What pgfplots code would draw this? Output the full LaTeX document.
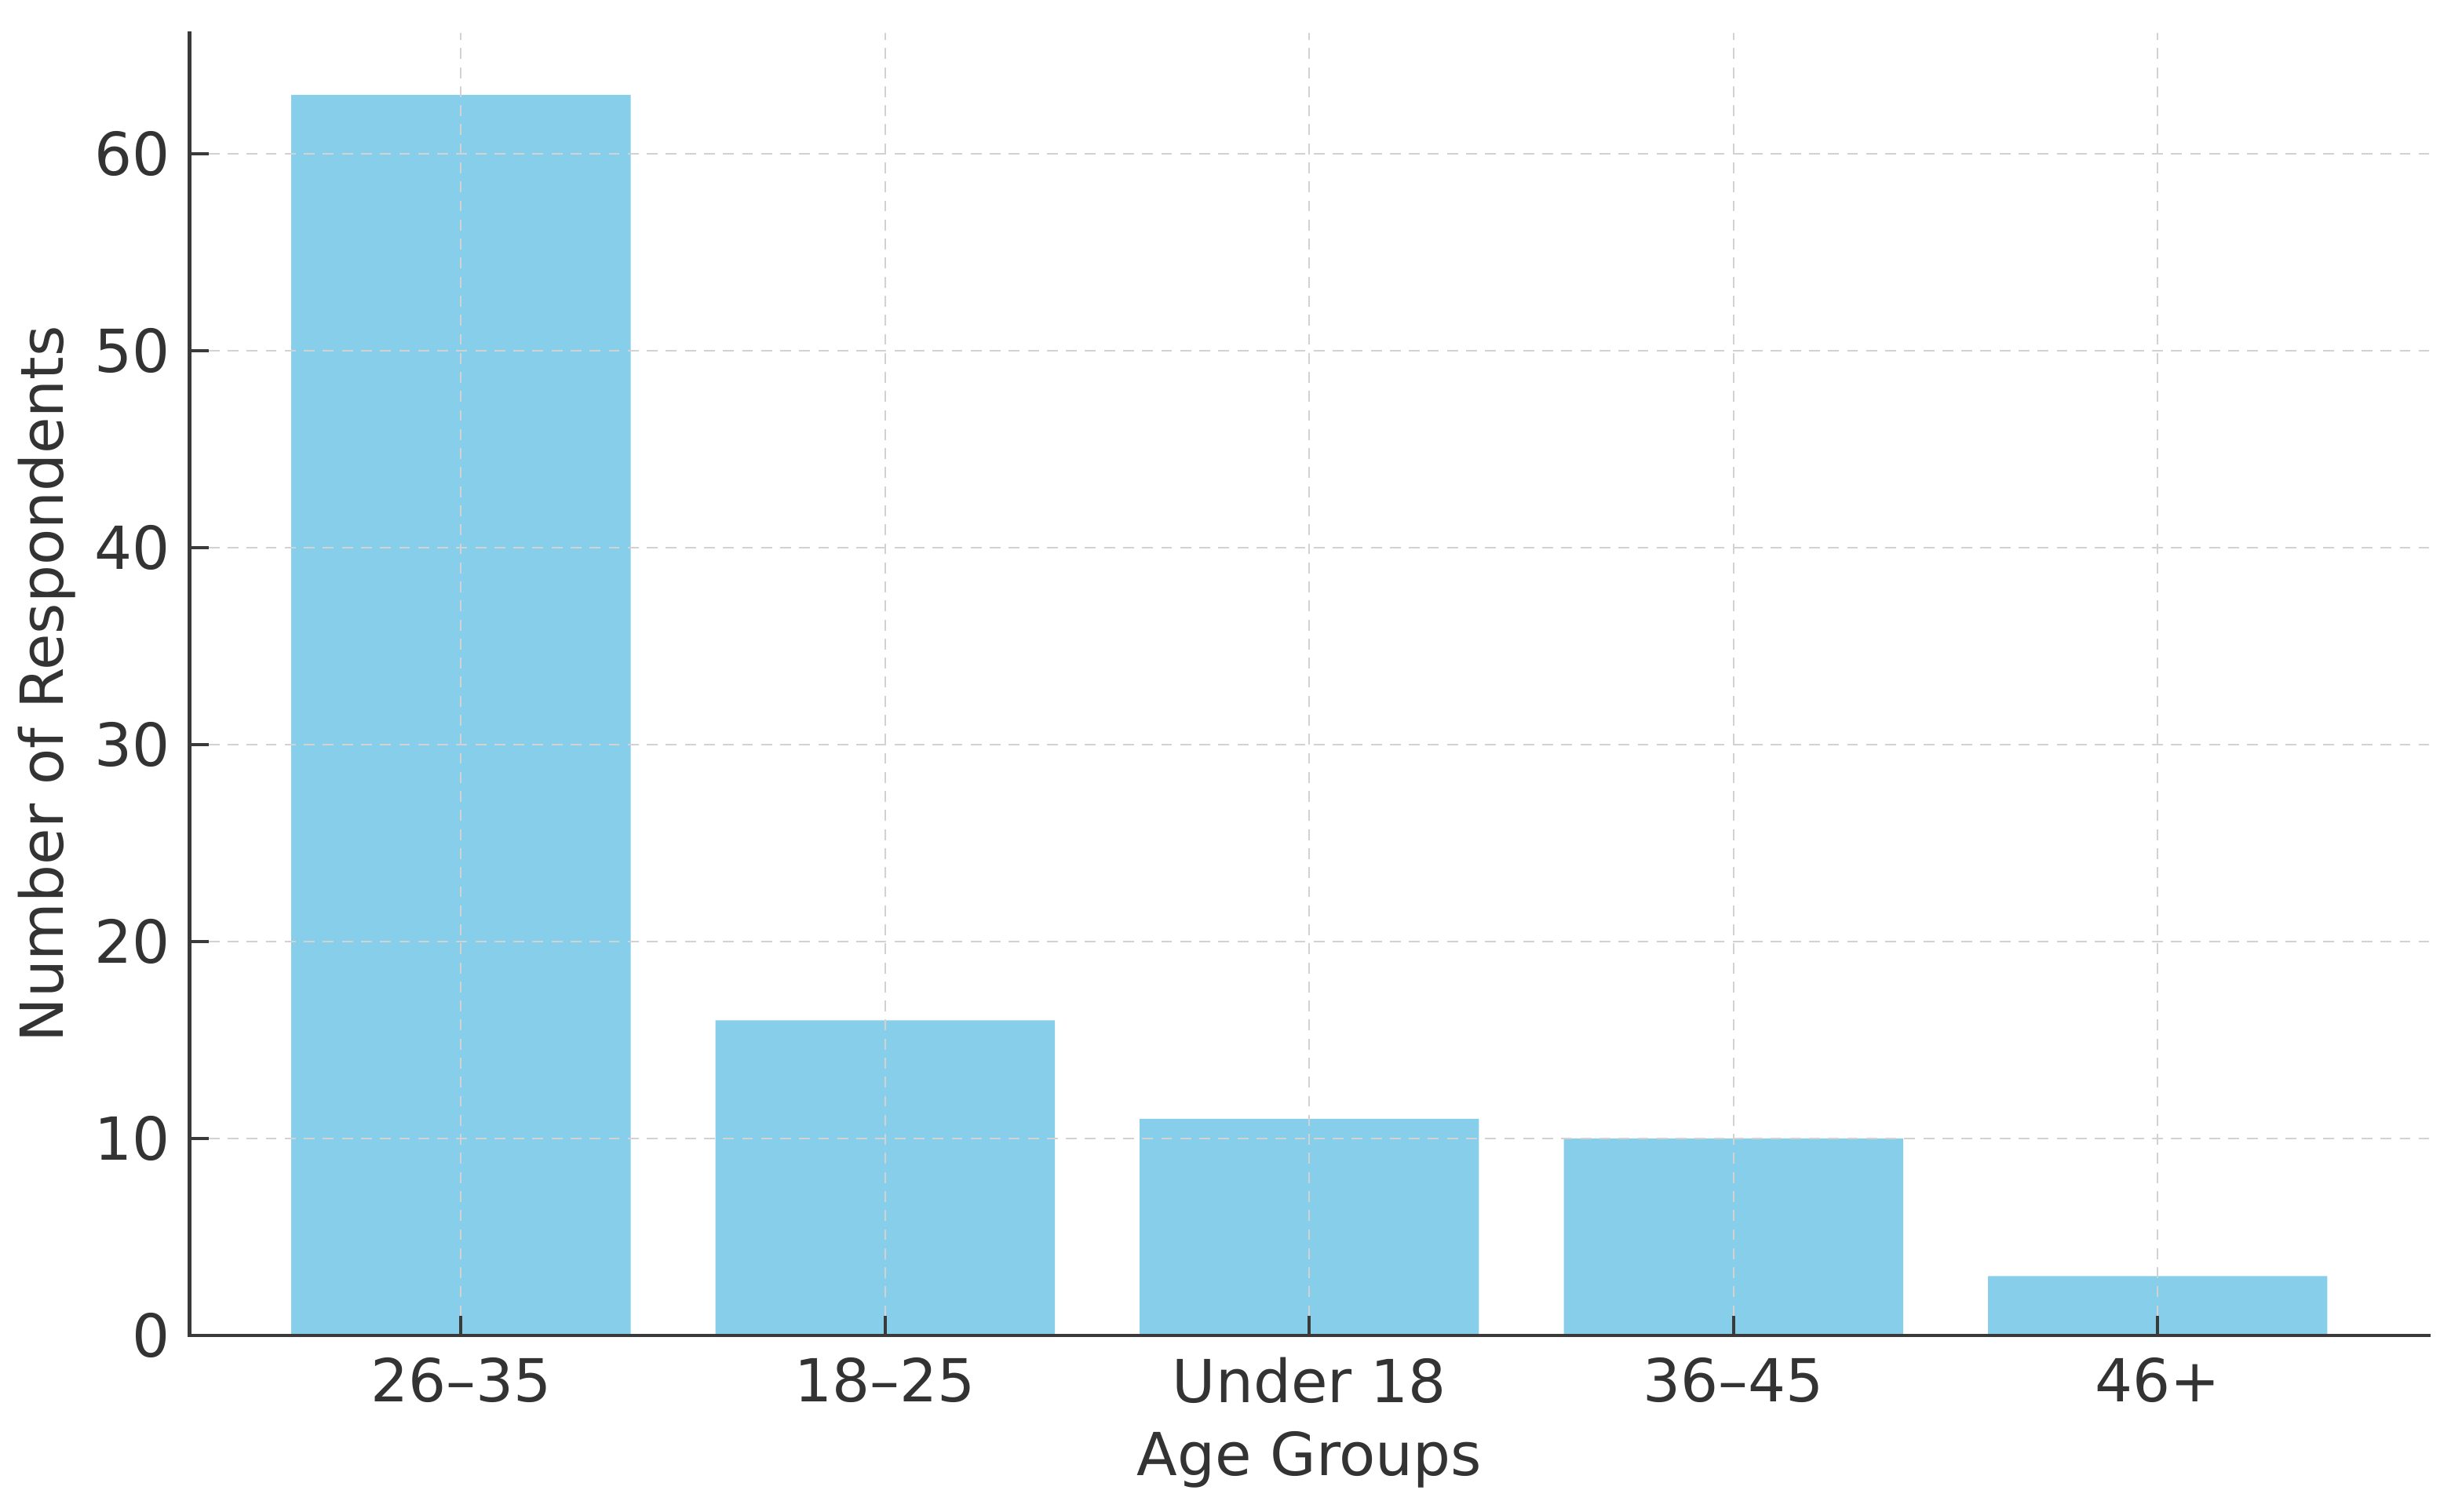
\documentclass[border=0pt]{standalone}
\usepackage{fontspec}
\setmainfont{DejaVu Sans}
\usepackage{pgfplots}
\pgfplotsset{compat=1.18}
\definecolor{barblue}{HTML}{87CEEB}
\definecolor{txt}{HTML}{333333}
\definecolor{spine}{HTML}{3A3A3A}
\begin{document}
\begin{tikzpicture}
\begin{axis}[
  scale only axis, width=411.4pt, height=239.3pt,
  font=\fontsize{10.9}{13}\selectfont,
  /pgf/number format/assume math mode=true,
  xmin=-0.64, xmax=4.64, ymin=0, ymax=66.15,
  axis line style={draw=none},
  axis on top, clip=false,
  xtick={0,1,2,3,4},
  xticklabels={26--35,18--25,Under 18,36--45,46+},
  ytick={0,10,20,30,40,50,60},
  xtick pos=lower, ytick pos=left,
  tick align=inside, major tick length=3.5pt,
  tick style={spine, line width=0.6pt},
  ticklabel style={txt},
  xticklabel style={yshift=-0.6pt},
  grid=major,
  major grid style={gray!35, dash pattern=on 2pt off 1.5pt, line width=0.3pt},
  xlabel={Age Groups}, ylabel={Number of Respondents},
  label style={txt},
  every axis x label/.append style={at={(axis description cs:0.5,0)}, anchor=center, yshift=-22.8pt},
  every axis y label/.append style={at={(axis description cs:-0.0637,0.5)}, anchor=center},
]
\addplot[ybar, bar width=0.8, fill=barblue, draw=none, bar shift=0pt]
  coordinates {(0,63) (1,16) (2,11) (3,10) (4,3)};
\coordinate (TL) at (rel axis cs:0,1);
\coordinate (BL) at (rel axis cs:0,0);
\coordinate (BR) at (rel axis cs:1,0);
\path ([xshift=-34.3pt,yshift=-32.4pt]rel axis cs:0,0) rectangle ([xshift=4.03pt,yshift=6.05pt]rel axis cs:1,1);
\end{axis}
% left and bottom spines only, over the grid
\draw[spine, line width=0.65pt, line cap=rect] (TL) -- (BL) -- (BR);
\end{tikzpicture}
\end{document}
